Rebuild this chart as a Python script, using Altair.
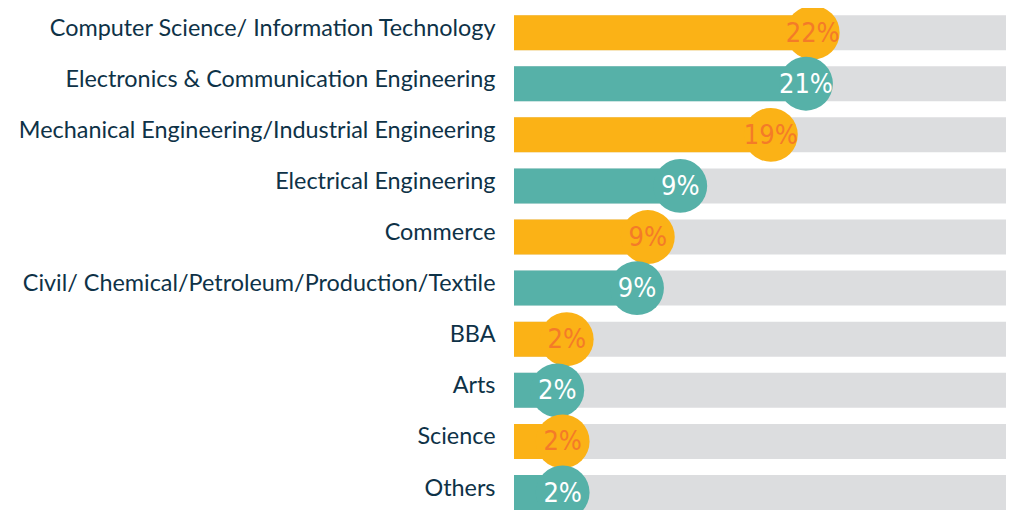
import altair as alt
import pandas as pd

categories = [
    "Computer Science/ Information Technology",
    "Electronics & Communication Engineering",
    "Mechanical Engineering/Industrial Engineering",
    "Electrical Engineering",
    "Commerce",
    "Civil/ Chemical/Petroleum/Production/Textile",
    "BBA",
    "Arts",
    "Science",
    "Others",
]
labels = ["22%", "21%", "19%", "9%", "9%", "9%", "2%", "2%", "2%", "2%"]
# where each coloured bar (and its circle) ends
bar_end = [22.1, 21.6, 19.0, 12.3, 9.9, 9.1, 3.9, 3.2, 3.6, 3.6]
full_scale = 36.4
group = ["a", "b", "a", "b", "a", "b", "a", "b", "a", "b"]

ORANGE = "#FBB216"
TEAL = "#56B1A8"
GRAY = "#DCDDDF"
ORANGE_TEXT = "#F47B28"

df = pd.DataFrame({
    "cat": categories,
    "label": labels,
    "end": bar_end,
    "full": [full_scale] * len(categories),
    "grp": group,
})
df["tcolor"] = df["grp"].map({"a": ORANGE_TEXT, "b": "#FFFFFF"})

xs = alt.Scale(domain=[0, full_scale], nice=False, zero=True)
ys = alt.Scale(domain=categories, paddingInner=0.315, paddingOuter=0.07, align=1)
cs = alt.Scale(domain=["a", "b"], range=[ORANGE, TEAL])
yaxis = alt.Axis(ticks=False, domain=False, labelPadding=19,
                 labelFontSize=23.4, labelFont="Lato", labelOffset=-4,
                 labelColor="#0E3247", labelLimit=600)

Y = alt.Y("cat:N", scale=ys, sort=categories, title=None, axis=yaxis)

base = alt.Chart(df)

bg = base.mark_bar(color=GRAY).encode(
    x=alt.X("full:Q", scale=xs, axis=None),
    y=Y,
)

bars = base.mark_bar().encode(
    x=alt.X("end:Q", scale=xs, axis=None),
    y=Y,
    color=alt.Color("grp:N", scale=cs, legend=None),
)

dots = base.mark_circle(size=2900, opacity=1).encode(
    x=alt.X("end:Q", scale=xs, axis=None),
    y=Y,
    color=alt.Color("grp:N", scale=cs, legend=None),
)

txt = base.mark_text(
    font="Liberation Sans Narrow, DejaVu Sans Condensed, Roboto Condensed, sans-serif",
    fontSize=27, align="center", baseline="middle", dy=1,
).encode(
    x=alt.X("end:Q", scale=xs, axis=None),
    y=Y,
    text="label:N",
    color=alt.Color("tcolor:N", scale=None),
)

chart = alt.layer(bg, bars, dots, txt).properties(
    width=492, height=502,
    autosize=alt.AutoSizeParams(type="none"),
    padding={"left": 506, "top": 0, "right": 0, "bottom": 0},
).configure(background="white").configure_view(stroke=None, strokeWidth=0)

chart.save("out.html", embed_options={"renderer": "svg", "actions": False})
